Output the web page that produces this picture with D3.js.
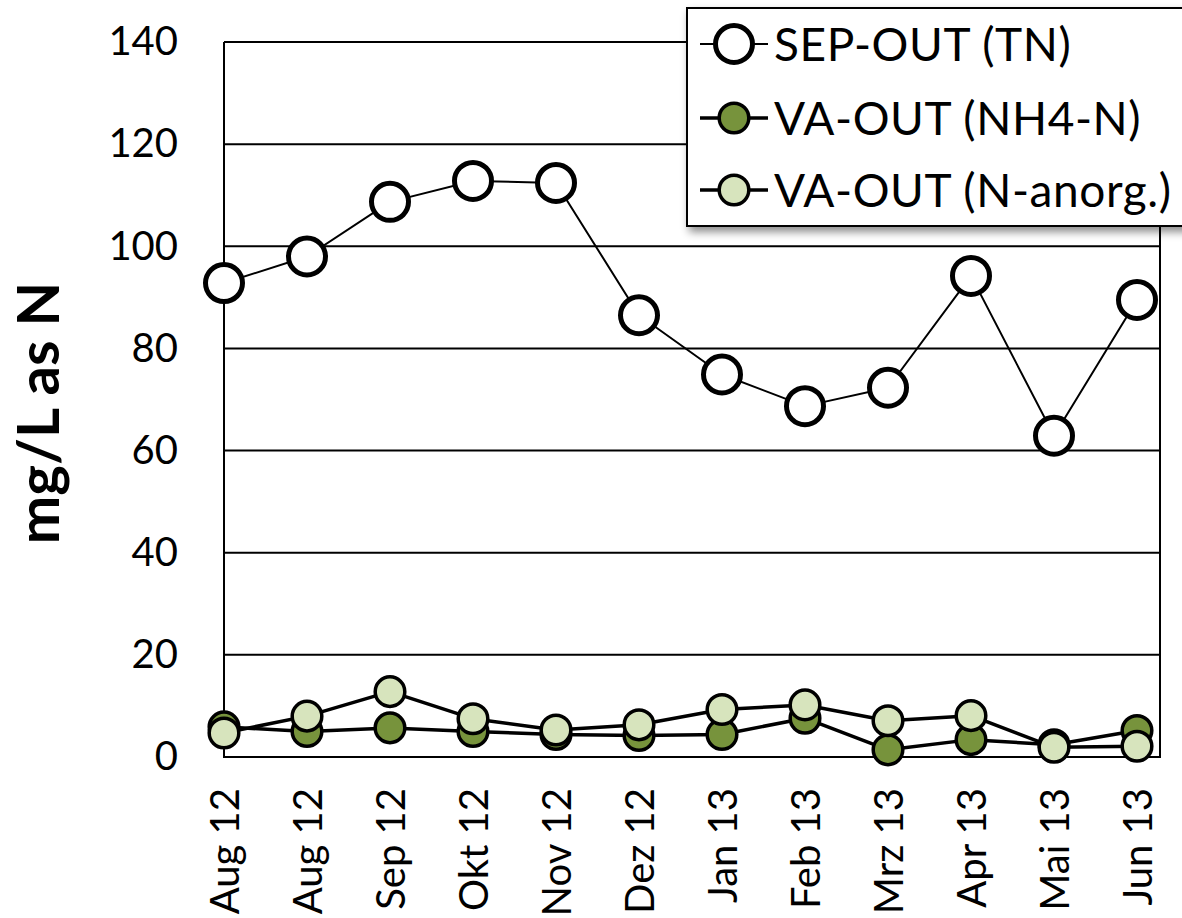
<!DOCTYPE html>
<html>
<head>
<meta charset="utf-8">
<script src="https://cdn.jsdelivr.net/npm/d3@7"></script>
<style>
  html, body { margin: 0; padding: 0; background: #fff; }
  svg { display: block; font-family: Lato, "Open Sans", sans-serif; }
</style>
</head>
<body>
<svg id="chart" width="1182" height="918"></svg>
<script>
// Sampling months (two samples in August 2012)
const months = ["Aug 12", "Aug 12", "Sep 12", "Okt 12", "Nov 12", "Dez 12",
                "Jan 13", "Feb 13", "Mrz 13", "Apr 13", "Mai 13", "Jun 13"];

// Nitrogen concentrations, mg/L as N
const sepOutTN   = [92.8, 98.0, 108.7, 112.8, 112.4, 86.5, 74.9, 68.7, 72.3, 94.2, 62.9, 89.5];
const vaOutNH4   = [5.9, 5.0, 5.7, 5.0, 4.4, 4.2, 4.4, 7.6, 1.4, 3.4, 2.4, 5.2];
const vaOutNanorg = [4.7, 8.0, 12.8, 7.5, 5.3, 6.3, 9.3, 10.2, 7.1, 8.1, 1.9, 2.1];

const yTicks = [0, 20, 40, 60, 80, 100, 120, 140];

const seriesNames = ["SEP-OUT (TN)", "VA-OUT (NH4-N)", "VA-OUT (N-anorg.)"];

const svg = d3.select("#chart");

const plot = { left: 224, right: 1160, top: 42, bottom: 757 };

const x = d3.scalePoint()
  .domain(d3.range(months.length))
  .range([plot.left, 1137]);

const y = d3.scaleLinear()
  .domain([0, 140])
  .range([plot.bottom, plot.top]);

// Shadow for the legend box
const defs = svg.append("defs");
const shadow = defs.append("filter").attr("id", "legendShadow")
  .attr("x", "-10%").attr("y", "-10%").attr("width", "130%").attr("height", "140%");
shadow.append("feDropShadow")
  .attr("dx", 3).attr("dy", 5).attr("stdDeviation", 4)
  .attr("flood-color", "#000").attr("flood-opacity", 0.45);

// Horizontal gridlines
svg.append("g")
  .selectAll("line")
  .data(yTicks.filter(d => d > 0))
  .join("line")
  .attr("x1", plot.left).attr("x2", plot.right)
  .attr("y1", d => y(d)).attr("y2", d => y(d))
  .attr("stroke", "#000").attr("stroke-width", 2);

// Plot frame: left, bottom and right edges
svg.append("path")
  .attr("d", `M${plot.left},${plot.top}V${plot.bottom}H${plot.right}V${plot.top}`)
  .attr("fill", "none").attr("stroke", "#000").attr("stroke-width", 2);

// Y axis tick labels
const yAxis = d3.axisLeft(y).tickValues(yTicks).tickSize(0).tickPadding(46);
const gy = svg.append("g").attr("transform", `translate(${plot.left},0)`).call(yAxis);
gy.select(".domain").remove();
gy.selectAll("text")
  .attr("font-family", "Lato, sans-serif")
  .attr("font-size", 40)
  .attr("fill", "#000");

// X axis tick labels, rotated
const xAxis = d3.axisBottom(x).tickSize(0).tickFormat(i => months[i]);
const gx = svg.append("g").attr("transform", `translate(0,${plot.bottom})`).call(xAxis);
gx.select(".domain").remove();
gx.selectAll("text")
  .attr("font-family", "Lato, sans-serif")
  .attr("font-size", 40)
  .attr("fill", "#000")
  .attr("text-anchor", "end")
  .attr("transform", "rotate(-90)")
  .attr("x", -31)
  .attr("y", 0)
  .attr("dy", "0.36em");

// Y axis title
svg.append("text")
  .attr("transform", "translate(59,413) rotate(-90)")
  .attr("text-anchor", "middle")
  .attr("font-family", "Lato, sans-serif")
  .attr("font-weight", "bold")
  .attr("font-size", 58)
  .attr("fill", "#000")
  .text("mg/L as N");

const series = [
  { name: seriesNames[0], values: sepOutTN,    fill: "#ffffff", r: 18.5, markerStroke: 5,   lineWidth: 2 },
  { name: seriesNames[1], values: vaOutNH4,    fill: "#77933c", r: 14.8, markerStroke: 3.5, lineWidth: 3.5 },
  { name: seriesNames[2], values: vaOutNanorg, fill: "#d7e4bd", r: 14.8, markerStroke: 3.5, lineWidth: 3.5 }
];

const line = d3.line()
  .x((d, i) => x(i))
  .y(d => y(d));

series.forEach(s => {
  const g = svg.append("g");
  g.append("path")
    .attr("d", line(s.values))
    .attr("fill", "none")
    .attr("stroke", "#000")
    .attr("stroke-width", s.lineWidth)
    .attr("stroke-linejoin", "round");
  g.selectAll("circle")
    .data(s.values)
    .join("circle")
    .attr("cx", (d, i) => x(i))
    .attr("cy", d => y(d))
    .attr("r", s.r)
    .attr("fill", s.fill)
    .attr("stroke", "#000")
    .attr("stroke-width", s.markerStroke);
});

// Legend
const legend = svg.append("g");
legend.append("rect")
  .attr("x", 687).attr("y", 8)
  .attr("width", 520).attr("height", 218)
  .attr("fill", "#fff")
  .attr("stroke", "#000").attr("stroke-width", 2)
  .attr("filter", "url(#legendShadow)");

const rowY = [44, 118, 190];
series.forEach((s, i) => {
  const row = legend.append("g").attr("transform", `translate(0,${rowY[i]})`);
  row.append("line")
    .attr("x1", 700).attr("x2", 768)
    .attr("y1", 0).attr("y2", 0)
    .attr("stroke", "#000").attr("stroke-width", s.lineWidth);
  row.append("circle")
    .attr("cx", 734).attr("cy", 0)
    .attr("r", s.r)
    .attr("fill", s.fill)
    .attr("stroke", "#000")
    .attr("stroke-width", s.markerStroke);
  row.append("text")
    .attr("x", 774).attr("y", 0)
    .attr("dy", "0.36em")
    .attr("font-family", "Lato, sans-serif")
    .attr("font-size", 46)
    .attr("letter-spacing", 0.6)
    .attr("fill", "#000")
    .text(s.name);
});
</script>
</body>
</html>
